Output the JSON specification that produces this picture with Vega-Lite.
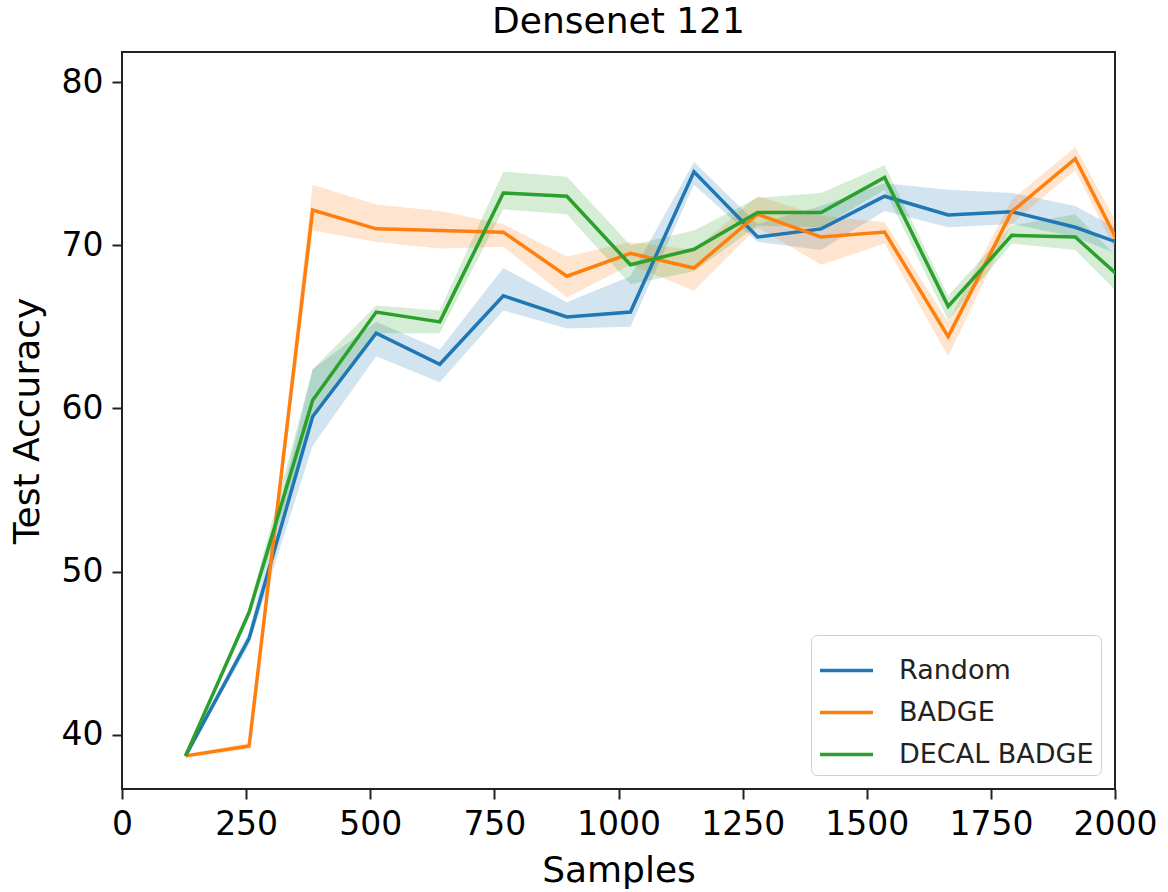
{
  "$schema": "https://vega.github.io/schema/vega-lite/v6.json",
  "autosize": {"type": "none"},
  "padding": {"left": 122, "top": 52, "right": 53, "bottom": 103},
  "width": 993,
  "height": 737,
  "title": {"text": "Densenet 121", "fontSize": 36, "fontWeight": "normal", "font": "DejaVu Sans", "color": "black", "offset": 11},
  "config": {
    "font": "DejaVu Sans",
    "view": {"stroke": "#222", "strokeWidth": 2},
    "axis": {
      "domain": false, "grid": false, "tickSize": 10, "tickWidth": 2, "tickColor": "#222",
      "labelFontSize": 33, "labelColor": "black", "labelPadding": 9, "labelOverlap": false, "labelFlush": false,
      "titleFontSize": 36, "titleFontWeight": "normal", "titleColor": "black"
    },
    "legend": {
      "orient": "bottom-right", "offset": 14, "title": null,
      "fillColor": "white", "strokeColor": "#d0d0d0", "cornerRadius": 6, "padding": 7,
      "symbolType": "stroke", "symbolSize": 2809, "symbolStrokeWidth": 3.5, "symbolOpacity": 1,
      "labelFontSize": 27, "labelColor": "#222", "labelOffset": 24, "labelLimit": 0, "rowPadding": 0
    }
  },
  "data": {"values": [
    {"samples": 128, "method": "Random", "acc": 38.7, "lo": 38.6, "hi": 38.8},
    {"samples": 256, "method": "Random", "acc": 45.9, "lo": 45.5, "hi": 46.3},
    {"samples": 384, "method": "Random", "acc": 59.5, "lo": 57.7, "hi": 62.4},
    {"samples": 512, "method": "Random", "acc": 64.6, "lo": 63.2, "hi": 65.3},
    {"samples": 640, "method": "Random", "acc": 62.7, "lo": 61.6, "hi": 63.6},
    {"samples": 768, "method": "Random", "acc": 66.9, "lo": 66.0, "hi": 68.6},
    {"samples": 896, "method": "Random", "acc": 65.6, "lo": 64.9, "hi": 66.5},
    {"samples": 1024, "method": "Random", "acc": 65.9, "lo": 65.0, "hi": 68.1},
    {"samples": 1152, "method": "Random", "acc": 74.5, "lo": 73.7, "hi": 75.1},
    {"samples": 1280, "method": "Random", "acc": 70.5, "lo": 70.2, "hi": 71.3},
    {"samples": 1408, "method": "Random", "acc": 71.0, "lo": 69.7, "hi": 72.4},
    {"samples": 1536, "method": "Random", "acc": 73.0, "lo": 72.1, "hi": 73.8},
    {"samples": 1664, "method": "Random", "acc": 71.85, "lo": 71.1, "hi": 73.4},
    {"samples": 1792, "method": "Random", "acc": 72.05, "lo": 71.3, "hi": 73.2},
    {"samples": 1920, "method": "Random", "acc": 71.1, "lo": 70.5, "hi": 72.4},
    {"samples": 2048, "method": "Random", "acc": 69.7, "lo": 68.9, "hi": 70.3},
    {"samples": 128, "method": "BADGE", "acc": 38.7, "lo": 38.6, "hi": 38.8},
    {"samples": 256, "method": "BADGE", "acc": 39.3, "lo": 39.1, "hi": 39.5},
    {"samples": 384, "method": "BADGE", "acc": 72.15, "lo": 70.9, "hi": 73.7},
    {"samples": 512, "method": "BADGE", "acc": 71.0, "lo": 70.2, "hi": 72.5},
    {"samples": 640, "method": "BADGE", "acc": 70.9, "lo": 69.8, "hi": 72.1},
    {"samples": 768, "method": "BADGE", "acc": 70.8, "lo": 69.9, "hi": 71.3},
    {"samples": 896, "method": "BADGE", "acc": 68.1, "lo": 66.8, "hi": 69.3},
    {"samples": 1024, "method": "BADGE", "acc": 69.5, "lo": 68.8, "hi": 70.2},
    {"samples": 1152, "method": "BADGE", "acc": 68.6, "lo": 67.2, "hi": 69.7},
    {"samples": 1280, "method": "BADGE", "acc": 71.9, "lo": 71.1, "hi": 73.0},
    {"samples": 1408, "method": "BADGE", "acc": 70.5, "lo": 68.8, "hi": 71.8},
    {"samples": 1536, "method": "BADGE", "acc": 70.8, "lo": 70.1, "hi": 71.4},
    {"samples": 1664, "method": "BADGE", "acc": 64.4, "lo": 63.2, "hi": 65.3},
    {"samples": 1792, "method": "BADGE", "acc": 72.05, "lo": 71.3, "hi": 72.8},
    {"samples": 1920, "method": "BADGE", "acc": 75.3, "lo": 74.6, "hi": 76.0},
    {"samples": 2048, "method": "BADGE", "acc": 67.7, "lo": 66.8, "hi": 68.9},
    {"samples": 128, "method": "DECAL BADGE", "acc": 38.7, "lo": 38.6, "hi": 38.8},
    {"samples": 256, "method": "DECAL BADGE", "acc": 47.5, "lo": 47.2, "hi": 47.8},
    {"samples": 384, "method": "DECAL BADGE", "acc": 60.5, "lo": 59.3, "hi": 62.4},
    {"samples": 512, "method": "DECAL BADGE", "acc": 65.9, "lo": 64.6, "hi": 66.3},
    {"samples": 640, "method": "DECAL BADGE", "acc": 65.3, "lo": 64.6, "hi": 66.0},
    {"samples": 768, "method": "DECAL BADGE", "acc": 73.2, "lo": 72.2, "hi": 74.5},
    {"samples": 896, "method": "DECAL BADGE", "acc": 73.0, "lo": 71.9, "hi": 74.2},
    {"samples": 1024, "method": "DECAL BADGE", "acc": 68.8, "lo": 67.6, "hi": 70.0},
    {"samples": 1152, "method": "DECAL BADGE", "acc": 69.75, "lo": 68.4, "hi": 70.9},
    {"samples": 1280, "method": "DECAL BADGE", "acc": 72.0, "lo": 71.2, "hi": 72.9},
    {"samples": 1408, "method": "DECAL BADGE", "acc": 72.0, "lo": 71.1, "hi": 73.2},
    {"samples": 1536, "method": "DECAL BADGE", "acc": 74.15, "lo": 73.4, "hi": 74.9},
    {"samples": 1664, "method": "DECAL BADGE", "acc": 66.25, "lo": 65.4, "hi": 66.9},
    {"samples": 1792, "method": "DECAL BADGE", "acc": 70.6, "lo": 70.1, "hi": 71.2},
    {"samples": 1920, "method": "DECAL BADGE", "acc": 70.5, "lo": 69.7, "hi": 71.9},
    {"samples": 2048, "method": "DECAL BADGE", "acc": 67.0, "lo": 65.8, "hi": 67.9}
  ]},
  "encoding": {
    "x": {"field": "samples", "type": "quantitative", "title": "Samples",
      "scale": {"domain": [0, 2000], "nice": false},
      "axis": {"values": [0, 250, 500, 750, 1000, 1250, 1500, 1750, 2000], "format": "d", "titlePadding": 12}},
    "color": {"field": "method", "type": "nominal", "sort": ["Random", "BADGE", "DECAL BADGE"],
      "scale": {"domain": ["Random", "BADGE", "DECAL BADGE"], "range": ["#1f77b4", "#ff7f0e", "#2ca02c"]}}
  },
  "layer": [
    {
      "mark": {"type": "area", "opacity": 0.2, "clip": true},
      "encoding": {
        "y": {"field": "lo", "type": "quantitative", "title": "Test Accuracy",
          "scale": {"domain": [36.67, 81.84], "nice": false, "zero": false},
          "axis": {"values": [40, 50, 60, 70, 80], "titlePadding": 15}},
        "y2": {"field": "hi"}
      }
    },
    {
      "mark": {"type": "line", "strokeWidth": 3.5, "clip": true},
      "encoding": {
        "y": {"field": "acc", "type": "quantitative"}
      }
    }
  ]
}
